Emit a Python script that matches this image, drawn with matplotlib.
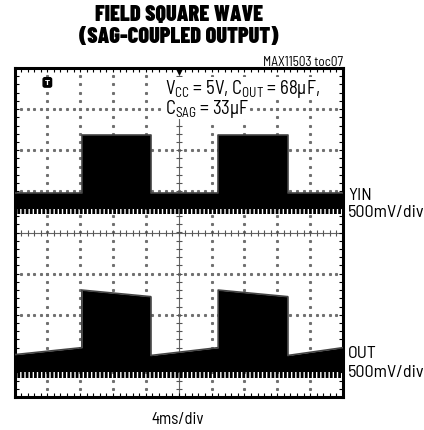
import matplotlib
matplotlib.use("Agg")
import matplotlib.pyplot as plt
from matplotlib.ticker import MultipleLocator
import numpy as np

plt.rcParams['font.family'] = ['Barlow Semi Condensed', 'DejaVu Sans']
plt.rcParams['mathtext.default'] = 'regular'
plt.rcParams['hatch.linewidth'] = 2.0

# scope traces, in screen divisions (x: 0..10, y: -4..4)
yin_x = [0, 2.05, 2.05, 4.15, 4.15, 6.20, 6.20, 8.32, 8.32, 10]
yin_top = [0.97, 0.97, 2.38, 2.38, 0.97, 0.97, 2.38, 2.38, 0.97, 0.97]
yin_solid_bot = 0.58
yin_teeth_bot = 0.44

out_x = [0, 2.05, 2.05, 4.15, 4.15, 6.20, 6.20, 8.32, 8.32, 10]
out_top = [-2.97, -2.80, -1.40, -1.56, -2.99, -2.80, -1.40, -1.56, -2.99, -2.80]
out_solid_bot = -3.38
out_teeth_bot = -3.53

W, H = 424, 431
fig = plt.figure(figsize=(W / 100, H / 100), dpi=100)
ax = fig.add_axes([14.5 / W, 1 - 398 / H, (343 - 14.5) / W, (398 - 69) / H])
ax.set_xlim(0, 10)
ax.set_ylim(-4, 4)

# graticule
xs = np.arange(0, 10.01, 0.2)
ys = np.arange(-4, 4.01, 0.2)
for i in range(1, 10):
    if i != 5:
        ax.plot(np.full_like(ys, i), ys, ls='none', marker='s', ms=1.2, color='#707070', zorder=1)
for j in range(-3, 4):
    if j != 0:
        ax.plot(xs, np.full_like(xs, j), ls='none', marker='s', ms=1.2, color='#707070', zorder=1)
ax.axhline(0, color='#666', lw=0.8, zorder=1)
ax.axvline(5, color='#666', lw=0.8, zorder=1)
ax.plot(xs, np.zeros_like(xs), ls='none', marker='|', ms=5, mew=0.8, color='#555', zorder=1)
ax.plot(np.full_like(ys, 5), ys, ls='none', marker='_', ms=5, mew=0.8, color='#555', zorder=1)


def trace(x, top, solid_bot, teeth_bot):
    ax.fill_between(x, solid_bot, top, color='black', lw=0, zorder=3)
    ax.fill_between([0, 10], teeth_bot, solid_bot + 0.02, facecolor='none', edgecolor='black',
                    hatch='||||', lw=0, zorder=3)
    ax.plot(x, top, color='#444', lw=1.2, zorder=4)


trace(yin_x, yin_top, yin_solid_bot, yin_teeth_bot)
trace(out_x, out_top, out_solid_bot, out_teeth_bot)

# markers
ax.plot([5], [3.93], marker='v', ms=5, color='black', clip_on=False, zorder=5)
ax.text(1.0, 3.65, 'T', color='white', fontsize=5, fontweight='bold', ha='center', va='center',
        family='DejaVu Sans', bbox=dict(boxstyle='round,pad=0.25', fc='black', ec='black'), zorder=5)

for s in ax.spines.values():
    s.set_linewidth(2.2)
ax.xaxis.set_minor_locator(MultipleLocator(0.2))
ax.yaxis.set_minor_locator(MultipleLocator(0.2))
ax.xaxis.set_major_locator(MultipleLocator(1))
ax.yaxis.set_major_locator(MultipleLocator(1))
ax.tick_params(which='both', direction='in', top=True, right=True, length=3, width=0.8,
               labelbottom=False, labelleft=False)

# texts
title_font = ['Barlow Condensed', 'DejaVu Sans']
fig.text(179 / W, 1 - 15 / H, 'FIELD SQUARE WAVE', ha='center', va='center', fontsize=16,
         fontweight='black', family=title_font)
fig.text(179 / W, 1 - 37 / H, '(SAG-COUPLED OUTPUT)', ha='center', va='center', fontsize=16,
         fontweight='black', family=title_font)
fig.text(343 / W, 1 - 63 / H, 'MAX11503 toc07', ha='right', va='center', fontsize=9.5)
wbox = dict(fc='white', ec='none', pad=0)
ax.text(165 / W, 1 - 89 / H, 'V$_{CC}$ = 5V, C$_{OUT}$ = 68\u00b5F,', transform=fig.transFigure,
        ha='left', va='center', fontsize=13.5, zorder=6, bbox=wbox)
ax.text(165 / W, 1 - 109 / H, 'C$_{SAG}$ = 33\u00b5F', transform=fig.transFigure,
        ha='left', va='center', fontsize=13.5, zorder=6, bbox=wbox)
fig.text(348 / W, 1 - 195 / H, 'YIN', ha='left', va='center', fontsize=13)
fig.text(348 / W, 1 - 213 / H, '500mV/div', ha='left', va='center', fontsize=13)
fig.text(348 / W, 1 - 353 / H, 'OUT', ha='left', va='center', fontsize=13)
fig.text(348 / W, 1 - 373 / H, '500mV/div', ha='left', va='center', fontsize=13)
fig.text(178 / W, 1 - 420 / H, '4ms/div', ha='center', va='center', fontsize=12)

fig.savefig('out.png', dpi=100)
